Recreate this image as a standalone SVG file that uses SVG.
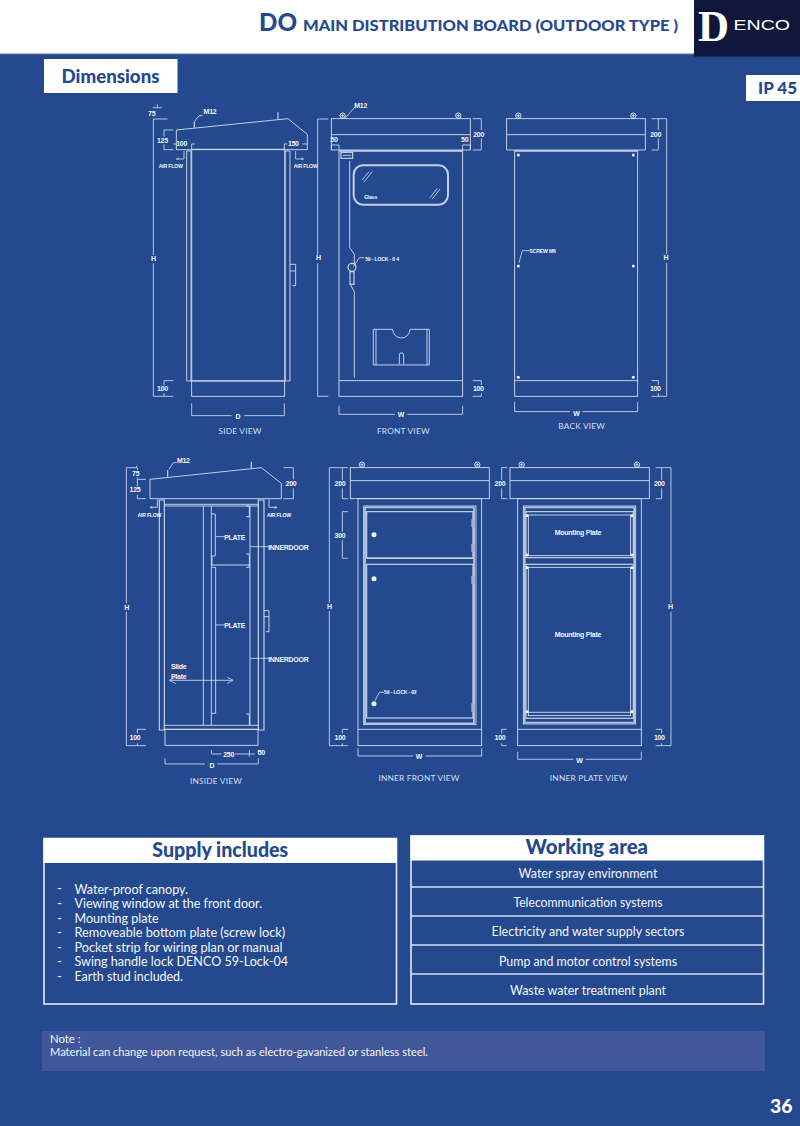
<svg xmlns="http://www.w3.org/2000/svg" width="800" height="1126" viewBox="0 0 800 1126">
<style>
.l{fill:none;stroke:#dbe3f1;stroke-width:2.6}
.t{fill:none;stroke:#b4c4df;stroke-width:5.5}
.m{fill:none;stroke:#c9d5e9;stroke-width:3.5}
.d{fill:none;stroke:#dbe3f1;stroke-width:2.4}
.f{fill:#f2f5fa;stroke:none}
text{font-family:"Lato","Liberation Sans",sans-serif}
.n{font-family:"Liberation Sans",sans-serif;font-weight:700;font-size:21px;fill:#f2f5fa;text-anchor:middle;letter-spacing:-.8px}
.s{font-family:"Liberation Sans",sans-serif;font-weight:700;font-size:15.500px;fill:#f2f5fa;text-anchor:middle;letter-spacing:-.6px}
.c{font-size:25px;fill:#d5dfef;text-anchor:middle;letter-spacing:.6px}
.b{font-size:13.500px;fill:#f4f6fb}
.w{font-size:13.500px;fill:#f4f6fb;text-anchor:middle}
.h{font-weight:900;fill:#24498f}
.e{font-size:12px;fill:#f4f6fb}
</style>
<defs>
<g id="bolt"><circle r="8" fill="none" stroke="#e6ecf5" stroke-width="2.800"/><path d="M-5 0H5M0-5V5" stroke="#e6ecf5" stroke-width="2.400"/></g>
<marker id="ar" viewBox="0 0 10 10" refX="9" refY="5" markerWidth="9" markerHeight="9" markerUnits="userSpaceOnUse" orient="auto-start-reverse"><path d="M0 0L10 5L0 10" fill="none" stroke="#e6ecf5" stroke-width="1.800"/></marker>
<marker id="ab" viewBox="0 0 10 10" refX="9" refY="5" markerWidth="20" markerHeight="20" markerUnits="userSpaceOnUse" orient="auto-start-reverse"><path d="M0 0L10 5L0 10" fill="none" stroke="#e6ecf5" stroke-width="1"/></marker>
</defs>
<rect width="800" height="1126" fill="#24498f"/>
<g id="header">
<rect width="800" height="54" fill="#fff"/>
<rect y="53" width="800" height="1.200" fill="#a9b9d8"/>
<text x="259" y="31" font-size="25" class="h" textLength="38" lengthAdjust="spacingAndGlyphs">DO</text>
<text x="303" y="30.500" font-size="15.800" class="h" textLength="375" lengthAdjust="spacingAndGlyphs">MAIN DISTRIBUTION BOARD (OUTDOOR TYPE )</text>
</g>
<g id="logo">
<rect x="694" width="106" height="56.500" fill="#10163a"/>
<text x="698" y="41" font-size="45" fill="#fff" font-weight="700" textLength="31" lengthAdjust="spacingAndGlyphs" style="font-family:'Liberation Serif',serif">D</text>
<text x="733.500" y="29.500" font-size="15.500" fill="#fff" textLength="56.500" lengthAdjust="spacingAndGlyphs" style="font-family:'Liberation Sans',sans-serif">ENCO</text>
</g>
<g id="dimensions-tag">
<rect x="44" y="59" width="133.500" height="34" fill="#fff"/>
<text x="61.500" y="83" font-size="18" class="h" textLength="98" lengthAdjust="spacingAndGlyphs">Dimensions</text>
</g>
<g id="ip-tag">
<rect x="746" y="75" width="54" height="26" fill="#fff"/>
<text x="758" y="94" font-size="17" class="h" textLength="39" lengthAdjust="spacingAndGlyphs">IP 45</text>
</g>

<g id="side-view" transform="translate(130 95) scale(.3333)">
<path class="l" d="M139 105L474 71L532 118V164H139Z"/>
<path class="m" d="M193 98V80M444 73V52"/>
<path class="d" d="M193 80L207 62H218"/>
<text class="n" x="240" y="58">M12</text>
<path class="l" d="M170 858V168H185M480 858V168H465M170 858H480"/>
<path class="t" d="M184 168V858M465 168V858"/>
<path class="m" d="M185 163H465"/>
<rect class="l" x="185" y="858" width="279" height="46"/>
<path class="l" d="M480 508H497V528H480M497 528V572H487"/>
<path class="d" d="M68 38H95M82 28V38"/>
<text class="n" x="65" y="62">75</text>
<path class="d" d="M113 72H70V480M70 505V904H130M130 105H102V125M102 148V164H130M130 147H140M185 168V147H195M463 168V147H472M517 147H532"/>
<text class="n" x="97" y="143">125</text>
<text class="n" x="155" y="154">100</text>
<text class="n" x="490" y="154">150</text>
<path class="d" d="M162 168V192H140" marker-end="url(#ar)"/>
<path class="d" d="M497 168V192H520" marker-end="url(#ar)"/>
<text class="s" x="122" y="220">AIR FLOW</text>
<text class="s" x="527" y="220">AIR FLOW</text>
<text class="n" x="70" y="499">H</text>
<path class="d" d="M595 72H563V480M563 505V904H595"/>
<text class="n" x="565" y="496">H</text>
<path class="d" d="M130 857H102V870M102 895V904"/>
<text class="n" x="97" y="889">100</text>
<path class="d" d="M185 925V962H305M343 962H463V925"/>
<text class="n" x="324" y="973">D</text>
<text class="c" x="330" y="1018">SIDE  VIEW</text>
</g>

<g id="front-view" transform="translate(320 95) scale(.3333)">
<rect class="l" x="34" y="71" width="417" height="94"/>
<path class="l" d="M34 119H451"/>
<path class="m" d="M57 168H428"/>
<rect class="l" x="57" y="168" width="371" height="736"/>
<path class="l" d="M57 857H428"/>
<use href="#bolt" x="68" y="62"/><use href="#bolt" x="415" y="62"/>
<path class="d" d="M75 70L103 38H108"/>
<text class="n" x="122" y="38">M12</text>
<path class="d" d="M458 71H484V105M484 130V165H458"/>
<text class="n" x="476" y="126">200</text>
<path class="d" d="M34 165V150H57V165M451 165V150H428V165"/>
<text class="n" x="42" y="141">50</text>
<text class="n" x="434" y="141">50</text>
<rect x="101" y="211" width="283" height="118" rx="28" fill="none" stroke="#c3d0e6" stroke-width="6"/>
<path class="d" d="M126 255L147 230M131 262L157 230M330 308L352 280M337 312L360 282"/>
<text class="s" x="152" y="312">Glass</text>
<rect class="m" x="63" y="172" width="35" height="18"/>
<path class="d" d="M68 181H94"/>
<path class="l" d="M89 198V458L103 478V510M92 570L103 590V848"/>
<circle class="m" cx="96" cy="517" r="12"/>
<rect class="m" x="90" y="530" width="12" height="38"/>
<path class="d" d="M100 515L118 488H133"/>
<text class="s" x="186" y="497">59 - LOCK - 0 4</text>
<path class="l" d="M160 703H218A26 26 0 0 0 270 703H328V810H160ZM168 703V810M321 703V810M238 808V780A6 6 0 0 1 251 780V808"/>
<path class="d" d="M458 857H484V870M484 895V904H458"/>
<text class="n" x="475" y="889">100</text>
<path class="d" d="M57 932V958H225M262 958H428V932"/>
<text class="n" x="243" y="967">W</text>
<text class="c" x="250" y="1016">FRONT VIEW</text>
</g>

<g id="back-view" transform="translate(495 95) scale(.3333)">
<rect class="l" x="35" y="71" width="416" height="94"/>
<path class="l" d="M35 119H451"/>
<path class="m" d="M59 168H428"/>
<rect class="l" x="59" y="168" width="369" height="736"/>
<path class="l" d="M59 857H428"/>
<use href="#bolt" x="70" y="62"/><use href="#bolt" x="415" y="62"/>
<g class="f"><circle cx="70" cy="180" r="4.500"/><circle cx="415" cy="180" r="4.500"/><circle cx="70" cy="513" r="4.500"/><circle cx="415" cy="513" r="4.500"/><circle cx="70" cy="847" r="4.500"/><circle cx="415" cy="847" r="4.500"/></g>
<path class="d" d="M72 503L82 467H104"/>
<text class="s" x="143" y="473">SCREW M6</text>
<path class="d" d="M470 71H515V478M515 503V904H470M470 165H490V130M490 105V71M470 857H490V870M490 895V904"/>
<text class="n" x="482" y="126">200</text>
<text class="n" x="481" y="889">100</text>
<text class="n" x="513" y="496">H</text>
<path class="d" d="M59 920V950H225M262 950H428V920"/>
<text class="n" x="244" y="962">W</text>
<text class="c" x="260" y="1003">BACK  VIEW</text>
</g>

<g id="inside-view" transform="translate(120 450) scale(.3333)">
<path class="l" d="M90 88L424 53L484 100V146H90Z"/>
<path class="m" d="M143 80V60M394 55V35"/>
<path class="d" d="M147 58L160 38H170"/>
<text class="n" x="190" y="40">M12</text>
<path class="m" d="M118 840V150H133V840ZM415 840V150H432V840Z"/>
<path class="l" d="M133 163H415M133 168H415M133 826H415M133 838H415"/>
<path class="l" d="M250 168V826M274 168V826M390 168V826"/>
<path class="l" d="M274 192H286V318H276V345M276 352H287V790H275"/>
<path class="m" d="M274 345H390"/>
<path class="l" d="M378 168H388V200H378M378 312H388V352H378M378 792H388V826"/>
<path class="d" d="M287 260H315M287 525H315M390 290H450M390 625H450"/>
<text class="n" x="344" y="270">PLATE</text>
<text class="n" x="344" y="535">PLATE</text>
<text class="n" x="505" y="300">INNERDOOR</text>
<text class="n" x="505" y="635">INNERDOOR</text>
<path class="d" d="M150 691H338" marker-start="url(#ab)" marker-end="url(#ab)"/>
<text class="n" x="176" y="657">Slide</text>
<text class="n" x="176" y="688">Plate</text>
<path class="l" d="M432 482H447V500H432M447 500V545H438"/>
<rect class="l" x="135" y="838" width="279" height="48"/>
<path class="d" d="M50 47V53M50 53H19V460M19 485V887H78M78 88H52V110M52 135V146H78M52 53V60M52 82V88M78 838H52V850M52 880V887M490 53H520V88M520 115V146H490"/>
<text class="n" x="47" y="79">75</text>
<text class="n" x="45" y="125">125</text>
<text class="n" x="513" y="108">200</text>
<text class="n" x="45" y="871">100</text>
<text class="n" x="20" y="479">H</text>
<path class="d" d="M112 148V172H90" marker-end="url(#ar)"/>
<path class="d" d="M447 148V172H470" marker-end="url(#ar)"/>
<text class="s" x="88" y="202">AIR FLOW</text>
<text class="s" x="477" y="202">AIR FLOW</text>
<path class="d" d="M275 900V912H305M345 912H405M388 900V920M415 900V912"/>
<text class="n" x="326" y="921">250</text>
<text class="n" x="424" y="916">50</text>
<path class="d" d="M135 925V942H255M292 942H415V925"/>
<text class="n" x="276" y="954">D</text>
<text class="c" x="288" y="1002">INSIDE  VIEW</text>
</g>

<g id="inner-front-view" transform="translate(320 450) scale(.3333)">
<rect class="l" x="91" y="53" width="417" height="93"/>
<path class="l" d="M91 92H508"/>
<rect class="l" x="114" y="146" width="371" height="741"/>
<path class="l" d="M114 838H485"/>
<use href="#bolt" x="126" y="44"/><use href="#bolt" x="472" y="44"/>
<rect class="l" x="131" y="168" width="337" height="656"/>
<path class="t" d="M135 172V820H462V172M135 172H462"/>
<path class="m" d="M140 325H459"/>
<rect class="m" x="140" y="185" width="319" height="139"/>
<rect class="m" x="140" y="343" width="319" height="461"/>
<path d="M458 208V232M458 282V305M458 377V401M458 760V785" stroke="#9fb2d4" stroke-width="8" fill="none"/>
<g class="f"><circle cx="162" cy="254" r="7.500"/><circle cx="162" cy="386" r="7.500"/><circle cx="162" cy="761" r="7.500"/></g>
<path class="d" d="M165 752L178 727H192"/>
<text class="s" x="241" y="733">59 - LOCK - 02</text>
<path class="d" d="M84 53H28V458M28 483V887H84M84 146H67V115M67 90V53M84 185H67V245M67 270V325H84M84 838H67V850M67 880V887"/>
<text class="n" x="60" y="108">200</text>
<text class="n" x="60" y="263">300</text>
<text class="n" x="60" y="871">100</text>
<text class="n" x="28" y="476">H</text>
<path class="d" d="M114 895V918H280M317 918H485V895"/>
<text class="n" x="297" y="926">W</text>
<text class="c" x="297" y="992">INNER FRONT VIEW</text>
</g>

<g id="inner-plate-view" transform="translate(490 450) scale(.3333)">
<rect class="l" x="60" y="53" width="418" height="93"/>
<path class="l" d="M60 92H478"/>
<rect class="l" x="83" y="146" width="371" height="741"/>
<path class="l" d="M83 838H454"/>
<use href="#bolt" x="95" y="44"/><use href="#bolt" x="441" y="44"/>
<rect class="l" x="100" y="168" width="337" height="654"/>
<path class="t" d="M104 172V818H433V172M104 172H433"/>
<rect class="m" x="108" y="185" width="322" height="138"/>
<rect class="m" x="108" y="343" width="322" height="462"/>
<rect class="l" x="115" y="195" width="307" height="122"/>
<rect class="l" x="115" y="352" width="307" height="445"/>
<path class="l" d="M115 787H422"/>
<g class="f"><rect x="107" y="193" width="8" height="8"/><rect x="422" y="193" width="8" height="8"/><rect x="107" y="311" width="8" height="8"/><rect x="422" y="311" width="8" height="8"/><rect x="107" y="349" width="8" height="8"/><rect x="422" y="349" width="8" height="8"/><rect x="107" y="781" width="8" height="8"/><rect x="422" y="781" width="8" height="8"/></g>
<text class="n" x="264" y="256">Mounting Plate</text>
<text class="n" x="264" y="561">Mounting Plate</text>
<path class="d" d="M52 53H35V90M35 115V146H52M497 53H543V460M543 485V887H497M497 146H515V115M515 90V53M50 838H35V850M35 880V887H50M497 838H515V850M515 880V887"/>
<text class="n" x="30" y="108">200</text>
<text class="n" x="508" y="108">200</text>
<text class="n" x="30" y="871">100</text>
<text class="n" x="508" y="871">100</text>
<text class="n" x="541" y="478">H</text>
<path class="d" d="M83 905V928H250M287 928H454V905"/>
<text class="n" x="268" y="939">W</text>
<text class="c" x="296" y="992">INNER PLATE VIEW</text>
</g>

<g id="supply-includes">
<rect x="44" y="838.500" width="352.500" height="165.500" fill="none" stroke="#e4eaf4" stroke-width="1.600"/>
<rect x="43.500" y="838" width="353.500" height="25" fill="#fff"/>
<text x="152.300" y="856.500" font-size="20" class="h" textLength="136" lengthAdjust="spacingAndGlyphs">Supply includes</text>
<g class="b">
<text x="57" y="893">-</text><text x="74.500" y="893.500" textLength="113.500" lengthAdjust="spacingAndGlyphs">Water-proof canopy.</text>
<text x="57" y="908">-</text><text x="74.500" y="908" textLength="187.600" lengthAdjust="spacingAndGlyphs">Viewing window at the front door.</text>
<text x="57" y="922.500">-</text><text x="74.500" y="922.500" textLength="84" lengthAdjust="spacingAndGlyphs">Mounting plate</text>
<text x="57" y="937">-</text><text x="74.500" y="937" textLength="210.700" lengthAdjust="spacingAndGlyphs">Removeable bottom plate (screw lock)</text>
<text x="57" y="951.500">-</text><text x="74.500" y="951.500" textLength="208" lengthAdjust="spacingAndGlyphs">Pocket strip for wiring plan or manual</text>
<text x="57" y="966">-</text><text x="74.500" y="966" textLength="213.600" lengthAdjust="spacingAndGlyphs">Swing handle lock DENCO 59-Lock-04</text>
<text x="57" y="981">-</text><text x="74.500" y="981" textLength="108.500" lengthAdjust="spacingAndGlyphs">Earth stud included.</text>
</g>
</g>
<g id="working-area">
<rect x="411" y="836" width="352.500" height="168" fill="none" stroke="#e4eaf4" stroke-width="1.600"/>
<rect x="410.500" y="835.500" width="353.500" height="25" fill="#fff"/>
<text x="525.600" y="853.500" font-size="20" class="h" textLength="122.400" lengthAdjust="spacingAndGlyphs">Working area</text>
<path d="M411 887H764M411 916H764M411 945H764M411 974H764" stroke="#d5dfef" stroke-width="1.500" fill="none"/>
<text class="w" x="588" y="878" textLength="139" lengthAdjust="spacingAndGlyphs">Water spray environment</text>
<text class="w" x="588" y="907" textLength="149" lengthAdjust="spacingAndGlyphs">Telecommunication systems</text>
<text class="w" x="588" y="936" textLength="193" lengthAdjust="spacingAndGlyphs">Electricity and water supply sectors</text>
<text class="w" x="588" y="965.500" textLength="178" lengthAdjust="spacingAndGlyphs">Pump and motor control systems</text>
<text class="w" x="588" y="994.500" textLength="156" lengthAdjust="spacingAndGlyphs">Waste water treatment plant</text>
</g>
<g id="note">
<rect x="42" y="1031" width="723" height="40" fill="#40589a"/>
<text class="e" x="50" y="1043" textLength="30.500" lengthAdjust="spacingAndGlyphs">Note :</text>
<text class="e" x="50" y="1056" textLength="378" lengthAdjust="spacingAndGlyphs">Material can change upon request, such as electro-gavanized or stanless steel.</text>
</g>
<text x="770" y="1113" font-size="18" font-weight="900" fill="#fff" textLength="22.500" lengthAdjust="spacingAndGlyphs">36</text>
</svg>
